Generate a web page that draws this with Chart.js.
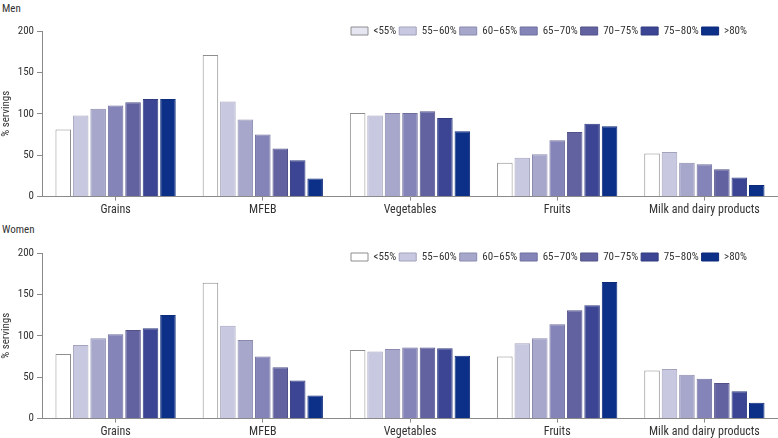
<!DOCTYPE html>
<html>
<head>
<meta charset="utf-8">
<script src="https://cdn.jsdelivr.net/npm/chart.js@4.4.1/dist/chart.umd.min.js"></script>
<style>
  html, body { margin: 0; padding: 0; background: #fff; }
  body { width: 778px; height: 438px; position: relative; overflow: hidden;
         font-family: 'Liberation Sans Narrow', 'Roboto Condensed', 'Arial Narrow', Roboto, sans-serif; }
  .panel { position: absolute; left: 0; width: 778px; }
  .ptitle { position: absolute; left: 2px; font-size: 11px; color: #333; }
</style>
</head>
<body>
<div class="ptitle" style="top:2px;">Men</div>
<div class="panel" style="top:0px;height:221px;"><canvas id="men"></canvas></div>
<div class="ptitle" style="top:223px;">Women</div>
<div class="panel" style="top:220px;height:224px;"><canvas id="women"></canvas></div>
<script>
// ---- data ----
const categories = ['Grains', 'MFEB', 'Vegetables', 'Fruits', 'Milk and dairy products'];
const seriesLabels = ['<55%', '55–60%', '60–65%', '65–70%', '70–75%', '75–80%', '>80%'];
const yTicks = [0, 50, 100, 150, 200];

// Men
const menLt55   = [81, 171, 101, 41, 52];
const men55_60  = [98, 115, 98, 47, 54];
const men60_65  = [106, 93, 101, 51, 41];
const men65_70  = [110, 75, 101, 68, 39];
const men70_75  = [114, 58, 103, 78, 33];
const men75_80  = [118, 44, 95, 88, 23];
const menGt80   = [118, 22, 79, 85, 14];

// Women
const womenLt55  = [78, 164, 83, 75, 58];
const women55_60 = [89, 112, 81, 91, 60];
const women60_65 = [97, 95, 84, 97, 53];
const women65_70 = [102, 75, 86, 114, 48];
const women70_75 = [107, 62, 86, 131, 43];
const women75_80 = [109, 46, 85, 137, 33];
const womenGt80  = [125, 28, 76, 165, 19];

// ---- styles ----
const fills   = ['#ffffff', '#c8c8e1', '#a7a7cc', '#8484b8', '#6262a1', '#3b4593', '#0c2f88'];
const borders = ['#8e8e8e', '#a3a3bd', '#8a8aae', '#6e6e9e', '#525289', '#323c80', '#0c2a7a'];
const FONT = "'Liberation Sans Narrow', 'Roboto Condensed', 'Arial Narrow', Roboto, sans-serif";
Chart.defaults.font.family = FONT;
Chart.defaults.color = '#333';

// Legend takes no vertical space and is drawn level with the top of the y axis
const legendShift = {
  id: 'legendShift',
  beforeLayout(chart) {
    const lg = chart.legend;
    if (!lg || lg._zeroWrapped) return;
    const origFit = lg.fit.bind(lg);
    lg.fit = function () { origFit(); this.height = 0; };
    lg._zeroWrapped = true;
  },
  afterLayout(chart) {
    const lg = chart.legend;
    if (!lg) return;
    const o = chart.options.plugins.legendShift || {};
    const p = lg.options.labels.padding;
    lg.top = chart.chartArea.top + (o.dy || 0) - p - 5.5;
    lg.bottom = lg.top + 24;
    lg.height = 24;
    lg.left = chart.chartArea.left;
    lg.right = (o.right || 747) + p;
    lg.width = lg.right - lg.left;
  }
};

function makeChart(id, seriesData, firstLegendFill, opts) {
  const datasets = seriesData.map((d, i) => ({
    label: seriesLabels[i],
    data: d,
    backgroundColor: fills[i],
    borderColor: borders[i],
    borderWidth: 1,
    categoryPercentage: 0.83,
    barPercentage: 0.89
  }));
  return new Chart(document.getElementById(id), {
    type: 'bar',
    data: { labels: categories, datasets },
    plugins: [legendShift],
    options: {
      responsive: true,
      maintainAspectRatio: false,
      animation: false,
      layout: { padding: { top: opts.padTop, bottom: opts.padBottom, left: 0, right: 0 } },
      scales: {
        x: {
          grid: { display: true, drawOnChartArea: false, offset: false, tickLength: 4, color: '#8a8a8a' },
          border: { color: '#8a8a8a', width: 1 },
          ticks: { padding: 2, font: { size: 12 }, color: '#333', maxRotation: 0 }
        },
        y: {
          min: 0, max: 200,
          afterFit: s => { s.width = 42; },
          afterBuildTicks: s => { s.ticks = yTicks.map(v => ({ value: v })); },
          grid: { display: true, drawOnChartArea: false, tickLength: 5, color: '#8a8a8a' },
          border: { color: '#8a8a8a', width: 1 },
          ticks: { padding: 3, font: { size: 11 }, color: '#333' },
          title: { display: true, text: '% servings', font: { size: 11 }, color: '#333', padding: { top: 0, bottom: 1 } }
        }
      },
      plugins: {
        legendShift: { dy: opts.legendDy, right: 747 },
        tooltip: { enabled: false },
        legend: {
          position: 'top',
          align: 'end',
          labels: {
            boxWidth: 17,
            boxHeight: 8,
            padding: 3,
            font: { size: 11 },
            color: '#333',
            generateLabels: chart => chart.data.datasets.map((ds, i) => ({
              text: ds.label,
              fillStyle: i === 0 ? firstLegendFill : ds.backgroundColor,
              strokeStyle: ds.borderColor,
              lineWidth: 1,
              hidden: false,
              datasetIndex: i,
              fontColor: '#333'
            }))
          }
        }
      }
    }
  });
}

makeChart('men', [menLt55, men55_60, men60_65, men65_70, men70_75, men75_80, menGt80], '#e6e6f2',
  { padTop: 31, padBottom: 2, legendDy: 0 });
makeChart('women', [womenLt55, women55_60, women60_65, women65_70, women70_75, women75_80, womenGt80], '#ffffff',
  { padTop: 33, padBottom: 3, legendDy: 4 });
</script>
</body>
</html>
